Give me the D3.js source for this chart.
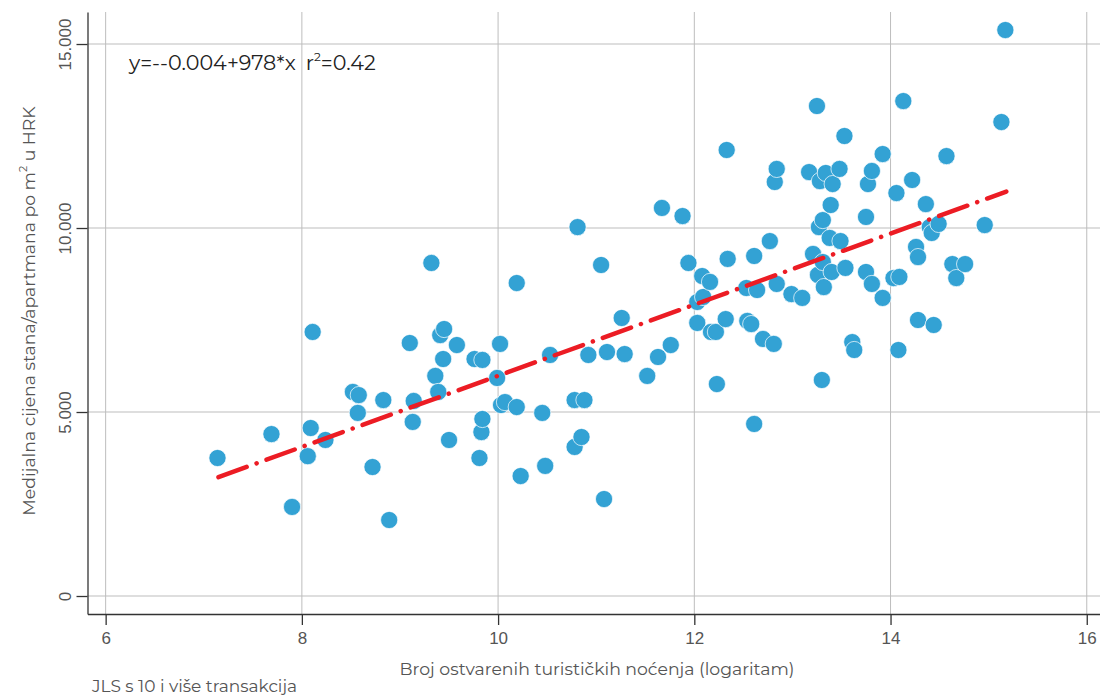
<!DOCTYPE html>
<html>
<head>
<meta charset="utf-8">
<script src="https://cdn.jsdelivr.net/npm/d3@7"></script>
<style>
  body { margin: 0; background: #fff; }
  svg { display: block; font-family: Montserrat, Inter, "Open Sans", sans-serif; }
</style>
</head>
<body>
<svg id="chart"></svg>
<script>
// log of tourist nights per municipality (x) and median price per m2 in HRK (y)
const nightsLog = [7.14, 7.69, 7.90, 8.06, 8.09, 8.11, 8.24, 8.52, 8.58, 8.57,
  8.72, 8.83, 8.89, 9.10, 9.14, 9.13, 9.32, 9.36, 9.39, 9.41,
  9.45, 9.44, 9.50, 9.58, 9.76, 9.84, 9.81, 9.83, 9.84, 9.99,
  10.02, 10.03, 10.07, 10.19, 10.19, 10.23, 10.45, 10.48, 10.53, 10.78,
  10.78, 10.81, 10.88, 10.85, 10.92, 11.05, 11.08, 11.11, 11.26, 11.29,
  11.52, 11.63, 11.67, 11.76, 11.88, 11.94, 12.03, 12.03, 12.09, 12.08,
  12.16, 12.17, 12.22, 12.23, 12.32, 12.33, 12.34, 12.53, 12.54, 12.58,
  12.61, 12.64, 12.61, 12.70, 12.77, 12.81, 12.82, 12.84, 12.84, 12.99,
  13.10, 13.17, 13.21, 13.25, 13.26, 13.27, 13.28, 13.31, 13.32, 13.30,
  13.31, 13.34, 13.41, 13.38, 13.39, 13.40, 13.49, 13.48, 13.53, 13.54,
  13.61, 13.63, 13.75, 13.75, 13.77, 13.81, 13.81, 13.92, 13.92, 14.06,
  14.03, 14.09, 14.08, 14.22, 14.13, 14.26, 14.28, 14.28, 14.36, 14.40,
  14.42, 14.49, 14.44, 14.57, 14.63, 14.67, 14.76, 14.96, 15.13, 15.17];
const pricePerM2 = [3750, 4400, 2420, 3800, 4565, 7175, 4240, 5545, 5460, 4975,
  3505, 5325, 2065, 6875, 5300, 4730, 9050, 5980, 5545, 7090,
  7255, 6440, 4240, 6820, 6440, 6415, 3750, 4455, 4810, 5925,
  6850, 5190, 5270, 8505, 5135, 3260, 4975, 3535, 6550, 5325,
  4050, 10025, 5325, 4320, 6550, 8995, 2635, 6630, 7555, 6575,
  5980, 6495, 10545, 6820, 10325, 9050, 7420, 7990, 8125, 8695,
  8535, 7175, 7175, 5760, 7525, 12120, 9160, 8370, 7475, 7390,
  4675, 8315, 9240, 6985, 9645, 6850, 11250, 11605, 8480, 8205,
  8100, 11520, 9295, 13315, 8725, 10025, 11275, 10215, 8395, 5870,
  9075, 11495, 11195, 9730, 10625, 8805, 9645, 11605, 12500, 8915,
  6900, 6685, 10300, 8805, 11195, 11550, 8480, 8100, 12010, 10950,
  8640, 8670, 6685, 11305, 13450, 9485, 9210, 7500, 10650, 10025,
  9865, 10110, 7365, 11955, 9020, 8640, 9020, 10080, 12880, 15380];

// fitted line end points
const fitX = [7.15, 15.18];
const fitY = [3230, 10990];

const xTicks = [6, 8, 10, 12, 14, 16];
const yTicks = [0, 5000, 10000, 15000];
const xDomain = [5.815, 16.135];
const yDomain = [-489, 15870];

const config = {
  containerWidth: 1100,
  containerHeight: 700,
  margin: {top: 12, right: 0, bottom: 86, left: 87.5}
};
const width = config.containerWidth - config.margin.left - config.margin.right;
const height = config.containerHeight - config.margin.top - config.margin.bottom;

const hr = d3.formatLocale({decimal: ",", thousands: ".", grouping: [3], currency: ["", ""]});
const fmt = hr.format(",");

const svg = d3.select("#chart")
  .attr("width", config.containerWidth)
  .attr("height", config.containerHeight);

const chart = svg.append("g")
  .attr("transform", `translate(${config.margin.left},${config.margin.top})`);

const x = d3.scaleLinear().domain(xDomain).range([0, width]);
const y = d3.scaleLinear().domain(yDomain).range([height, 0]);

// grid
chart.append("g").selectAll("line")
  .data(xTicks)
  .join("line")
    .attr("x1", d => x(d)).attr("x2", d => x(d))
    .attr("y1", 0).attr("y2", height)
    .attr("stroke", "#bdbdbd").attr("stroke-width", 1);
chart.append("g").selectAll("line")
  .data(yTicks)
  .join("line")
    .attr("x1", 0).attr("x2", width)
    .attr("y1", d => y(d)).attr("y2", d => y(d))
    .attr("stroke", "#bdbdbd").attr("stroke-width", 1);

// axes
const xAxis = chart.append("g")
  .attr("transform", `translate(0,${height})`)
  .call(d3.axisBottom(x).tickValues(xTicks).tickSize(11).tickSizeOuter(0));
xAxis.selectAll("text")
  .attr("y", 30).attr("dy", 0)
  .attr("fill", "#555").style("font-size", "17px");

const yAxis = chart.append("g")
  .call(d3.axisLeft(y).tickValues(yTicks).tickFormat(fmt).tickSize(11).tickSizeOuter(0));
yAxis.selectAll("text")
  .attr("transform", "rotate(-90)")
  .attr("x", 0).attr("y", -17).attr("dy", 0)
  .attr("text-anchor", "middle")
  .attr("fill", "#555").style("font-size", "17px");

[xAxis, yAxis].forEach(a => {
  a.select(".domain").attr("stroke", "#333").attr("stroke-width", 1.3);
  a.selectAll(".tick line").attr("stroke", "#333").attr("stroke-width", 1.3);
});

// points
const points = nightsLog.map((v, i) => ({x: v, y: pricePerM2[i]}));
chart.append("g").selectAll("circle")
  .data(points)
  .join("circle")
    .attr("cx", d => x(d.x))
    .attr("cy", d => y(d.y))
    .attr("r", 8.6)
    .attr("fill", "#33a2d4")
    .attr("stroke", "#fff")
    .attr("stroke-width", 0.7);

// regression line
const line = d3.line().x(d => x(d[0])).y(d => y(d[1]));
chart.append("path")
  .datum(fitX.map((v, i) => [v, fitY[i]]))
  .attr("d", line)
  .attr("fill", "none")
  .attr("stroke", "#ec1c24")
  .attr("stroke-width", 4.5)
  .attr("stroke-linecap", "round")
  .attr("stroke-dasharray", "30,10.5,0.1,10.5");

// equation
const eq = svg.append("text")
  .attr("x", 129).attr("y", 70)
  .attr("fill", "#222")
  .style("font-size", "20.7px");
eq.append("tspan").text("y=--0.004+978*x");
eq.append("tspan").attr("dx", 10).text("r");
eq.append("tspan").attr("dy", -9).style("font-size", "12px").text("2");
eq.append("tspan").attr("dy", 9).text("=0.42");

// axis titles
svg.append("text")
  .attr("x", 597).attr("y", 675)
  .attr("text-anchor", "middle")
  .attr("fill", "#555").style("font-size", "17.3px")
  .text("Broj ostvarenih turističkih noćenja (logaritam)");

const yTitle = svg.append("text")
  .attr("transform", "translate(35,311) rotate(-90)")
  .attr("text-anchor", "middle")
  .attr("fill", "#555").style("font-size", "17.3px");
yTitle.append("tspan").text("Medijalna cijena stana/apartmana po m");
yTitle.append("tspan").attr("dy", -8).style("font-size", "11px").text("2");
yTitle.append("tspan").attr("dy", 8).text(" u HRK");

svg.append("text")
  .attr("x", 92).attr("y", 692)
  .attr("fill", "#555").style("font-size", "17px")
  .text("JLS s 10 i više transakcija");
</script>
</body>
</html>
